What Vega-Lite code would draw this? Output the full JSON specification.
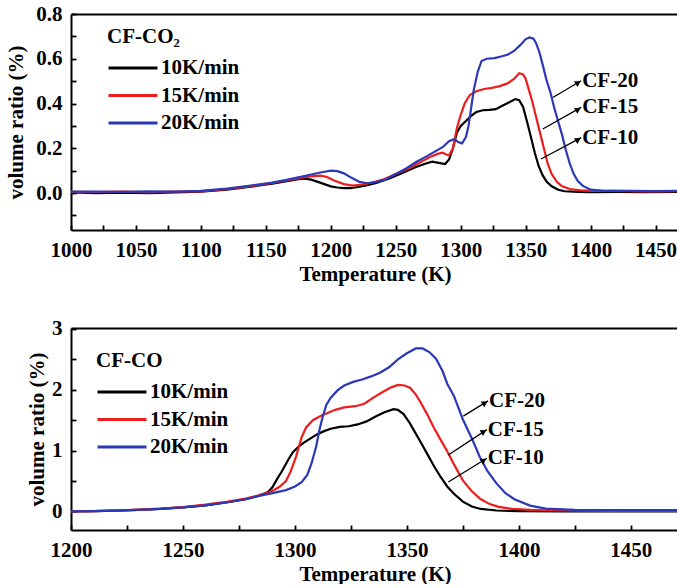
{
  "$schema": "https://vega.github.io/schema/vega-lite/v6.json",
  "padding": {"left": 5, "top": 3, "right": 0, "bottom": 0},
  "background": "white",
  "spacing": 33,
  "config": {
    "view": {"stroke": null},
    "font": "Liberation Serif",
    "axis": {
      "labelFont": "Liberation Serif", "labelFontWeight": "bold", "labelFontSize": 21, "labelColor": "black",
      "titleFont": "Liberation Serif", "titleFontWeight": "bold", "titleFontSize": 21, "titleColor": "black",
      "domainColor": "black", "domainWidth": 2, "tickColor": "black", "tickWidth": 1.8, "tickSize": -5,
      "labelPadding": 14, "grid": false, "labelOverlap": false, "labelFlush": false
    },
    "legend": {
      "orient": "none", "titleFont": "Liberation Serif", "titleFontSize": 21, "titleFontWeight": "bold", "titleColor": "black",
      "titlePadding": 11, "labelFont": "Liberation Serif", "labelFontSize": 21, "labelFontWeight": "bold", "labelColor": "black",
      "symbolType": "stroke", "symbolSize": 2400, "symbolStrokeWidth": 3, "labelOffset": 2, "rowPadding": 6.5, "clipHeight": 20, "padding": 0
    }
  },
  "resolve": {"scale": {"color": "independent"}},
  "datasets": {
    "co2": [
      {"T": 1000, "v": 0.003, "s": "10K/min"}, {"T": 1020, "v": 0.0, "s": "10K/min"}, {"T": 1040, "v": 0.002, "s": "10K/min"}, {"T": 1060, "v": 0.0, "s": "10K/min"}, {"T": 1080, "v": 0.003, "s": "10K/min"}, {"T": 1100, "v": 0.006, "s": "10K/min"}, {"T": 1120, "v": 0.015, "s": "10K/min"}, {"T": 1140, "v": 0.03, "s": "10K/min"}, {"T": 1155, "v": 0.042, "s": "10K/min"}, {"T": 1165, "v": 0.052, "s": "10K/min"}, {"T": 1175, "v": 0.062, "s": "10K/min"}, {"T": 1180, "v": 0.064, "s": "10K/min"}, {"T": 1185, "v": 0.06, "s": "10K/min"}, {"T": 1190, "v": 0.05, "s": "10K/min"}, {"T": 1195, "v": 0.04, "s": "10K/min"}, {"T": 1200, "v": 0.03, "s": "10K/min"}, {"T": 1205, "v": 0.025, "s": "10K/min"}, {"T": 1210, "v": 0.022, "s": "10K/min"}, {"T": 1215, "v": 0.022, "s": "10K/min"}, {"T": 1220, "v": 0.026, "s": "10K/min"}, {"T": 1228, "v": 0.035, "s": "10K/min"}, {"T": 1235, "v": 0.045, "s": "10K/min"}, {"T": 1245, "v": 0.065, "s": "10K/min"}, {"T": 1255, "v": 0.09, "s": "10K/min"}, {"T": 1265, "v": 0.115, "s": "10K/min"}, {"T": 1272, "v": 0.13, "s": "10K/min"}, {"T": 1278, "v": 0.14, "s": "10K/min"}, {"T": 1283, "v": 0.135, "s": "10K/min"}, {"T": 1288, "v": 0.13, "s": "10K/min"}, {"T": 1291, "v": 0.15, "s": "10K/min"}, {"T": 1294, "v": 0.2, "s": "10K/min"}, {"T": 1297, "v": 0.27, "s": "10K/min"}, {"T": 1300, "v": 0.3, "s": "10K/min"}, {"T": 1304, "v": 0.322, "s": "10K/min"}, {"T": 1308, "v": 0.345, "s": "10K/min"}, {"T": 1312, "v": 0.362, "s": "10K/min"}, {"T": 1317, "v": 0.37, "s": "10K/min"}, {"T": 1322, "v": 0.372, "s": "10K/min"}, {"T": 1327, "v": 0.375, "s": "10K/min"}, {"T": 1332, "v": 0.39, "s": "10K/min"}, {"T": 1337, "v": 0.405, "s": "10K/min"}, {"T": 1342, "v": 0.42, "s": "10K/min"}, {"T": 1345, "v": 0.415, "s": "10K/min"}, {"T": 1348, "v": 0.385, "s": "10K/min"}, {"T": 1351, "v": 0.32, "s": "10K/min"}, {"T": 1354, "v": 0.25, "s": "10K/min"}, {"T": 1357, "v": 0.18, "s": "10K/min"}, {"T": 1360, "v": 0.12, "s": "10K/min"}, {"T": 1363, "v": 0.08, "s": "10K/min"}, {"T": 1366, "v": 0.052, "s": "10K/min"}, {"T": 1370, "v": 0.03, "s": "10K/min"}, {"T": 1375, "v": 0.015, "s": "10K/min"}, {"T": 1380, "v": 0.008, "s": "10K/min"}, {"T": 1390, "v": 0.005, "s": "10K/min"}, {"T": 1400, "v": 0.004, "s": "10K/min"}, {"T": 1420, "v": 0.005, "s": "10K/min"}, {"T": 1440, "v": 0.004, "s": "10K/min"}, {"T": 1469, "v": 0.005, "s": "10K/min"},
      {"T": 1000, "v": 0.005, "s": "15K/min"}, {"T": 1020, "v": 0.004, "s": "15K/min"}, {"T": 1040, "v": 0.006, "s": "15K/min"}, {"T": 1060, "v": 0.003, "s": "15K/min"}, {"T": 1080, "v": 0.007, "s": "15K/min"}, {"T": 1100, "v": 0.008, "s": "15K/min"}, {"T": 1120, "v": 0.017, "s": "15K/min"}, {"T": 1140, "v": 0.032, "s": "15K/min"}, {"T": 1155, "v": 0.045, "s": "15K/min"}, {"T": 1165, "v": 0.055, "s": "15K/min"}, {"T": 1175, "v": 0.065, "s": "15K/min"}, {"T": 1185, "v": 0.075, "s": "15K/min"}, {"T": 1192, "v": 0.078, "s": "15K/min"}, {"T": 1197, "v": 0.072, "s": "15K/min"}, {"T": 1203, "v": 0.055, "s": "15K/min"}, {"T": 1210, "v": 0.04, "s": "15K/min"}, {"T": 1217, "v": 0.033, "s": "15K/min"}, {"T": 1224, "v": 0.038, "s": "15K/min"}, {"T": 1232, "v": 0.047, "s": "15K/min"}, {"T": 1240, "v": 0.06, "s": "15K/min"}, {"T": 1250, "v": 0.085, "s": "15K/min"}, {"T": 1260, "v": 0.11, "s": "15K/min"}, {"T": 1268, "v": 0.135, "s": "15K/min"}, {"T": 1276, "v": 0.16, "s": "15K/min"}, {"T": 1282, "v": 0.175, "s": "15K/min"}, {"T": 1286, "v": 0.18, "s": "15K/min"}, {"T": 1289, "v": 0.172, "s": "15K/min"}, {"T": 1291, "v": 0.168, "s": "15K/min"}, {"T": 1294, "v": 0.2, "s": "15K/min"}, {"T": 1297, "v": 0.29, "s": "15K/min"}, {"T": 1300, "v": 0.35, "s": "15K/min"}, {"T": 1303, "v": 0.4, "s": "15K/min"}, {"T": 1307, "v": 0.438, "s": "15K/min"}, {"T": 1312, "v": 0.455, "s": "15K/min"}, {"T": 1318, "v": 0.465, "s": "15K/min"}, {"T": 1324, "v": 0.47, "s": "15K/min"}, {"T": 1330, "v": 0.478, "s": "15K/min"}, {"T": 1336, "v": 0.49, "s": "15K/min"}, {"T": 1341, "v": 0.51, "s": "15K/min"}, {"T": 1345, "v": 0.535, "s": "15K/min"}, {"T": 1348, "v": 0.53, "s": "15K/min"}, {"T": 1350, "v": 0.51, "s": "15K/min"}, {"T": 1352, "v": 0.47, "s": "15K/min"}, {"T": 1355, "v": 0.41, "s": "15K/min"}, {"T": 1358, "v": 0.34, "s": "15K/min"}, {"T": 1361, "v": 0.27, "s": "15K/min"}, {"T": 1364, "v": 0.2, "s": "15K/min"}, {"T": 1367, "v": 0.13, "s": "15K/min"}, {"T": 1370, "v": 0.085, "s": "15K/min"}, {"T": 1374, "v": 0.05, "s": "15K/min"}, {"T": 1378, "v": 0.03, "s": "15K/min"}, {"T": 1384, "v": 0.018, "s": "15K/min"}, {"T": 1392, "v": 0.012, "s": "15K/min"}, {"T": 1400, "v": 0.01, "s": "15K/min"}, {"T": 1420, "v": 0.01, "s": "15K/min"}, {"T": 1440, "v": 0.008, "s": "15K/min"}, {"T": 1469, "v": 0.009, "s": "15K/min"},
      {"T": 1000, "v": 0.006, "s": "20K/min"}, {"T": 1020, "v": 0.007, "s": "20K/min"}, {"T": 1040, "v": 0.005, "s": "20K/min"}, {"T": 1060, "v": 0.008, "s": "20K/min"}, {"T": 1080, "v": 0.006, "s": "20K/min"}, {"T": 1100, "v": 0.01, "s": "20K/min"}, {"T": 1120, "v": 0.02, "s": "20K/min"}, {"T": 1140, "v": 0.035, "s": "20K/min"}, {"T": 1155, "v": 0.047, "s": "20K/min"}, {"T": 1165, "v": 0.058, "s": "20K/min"}, {"T": 1175, "v": 0.07, "s": "20K/min"}, {"T": 1185, "v": 0.083, "s": "20K/min"}, {"T": 1193, "v": 0.093, "s": "20K/min"}, {"T": 1200, "v": 0.1, "s": "20K/min"}, {"T": 1205, "v": 0.098, "s": "20K/min"}, {"T": 1210, "v": 0.088, "s": "20K/min"}, {"T": 1216, "v": 0.068, "s": "20K/min"}, {"T": 1222, "v": 0.05, "s": "20K/min"}, {"T": 1228, "v": 0.044, "s": "20K/min"}, {"T": 1235, "v": 0.05, "s": "20K/min"}, {"T": 1242, "v": 0.06, "s": "20K/min"}, {"T": 1250, "v": 0.085, "s": "20K/min"}, {"T": 1258, "v": 0.11, "s": "20K/min"}, {"T": 1266, "v": 0.14, "s": "20K/min"}, {"T": 1274, "v": 0.165, "s": "20K/min"}, {"T": 1280, "v": 0.185, "s": "20K/min"}, {"T": 1286, "v": 0.205, "s": "20K/min"}, {"T": 1291, "v": 0.232, "s": "20K/min"}, {"T": 1295, "v": 0.242, "s": "20K/min"}, {"T": 1298, "v": 0.228, "s": "20K/min"}, {"T": 1301, "v": 0.222, "s": "20K/min"}, {"T": 1304, "v": 0.25, "s": "20K/min"}, {"T": 1306, "v": 0.3, "s": "20K/min"}, {"T": 1308, "v": 0.38, "s": "20K/min"}, {"T": 1310, "v": 0.46, "s": "20K/min"}, {"T": 1313, "v": 0.54, "s": "20K/min"}, {"T": 1316, "v": 0.59, "s": "20K/min"}, {"T": 1320, "v": 0.6, "s": "20K/min"}, {"T": 1326, "v": 0.603, "s": "20K/min"}, {"T": 1331, "v": 0.61, "s": "20K/min"}, {"T": 1336, "v": 0.618, "s": "20K/min"}, {"T": 1341, "v": 0.635, "s": "20K/min"}, {"T": 1346, "v": 0.662, "s": "20K/min"}, {"T": 1350, "v": 0.688, "s": "20K/min"}, {"T": 1353, "v": 0.695, "s": "20K/min"}, {"T": 1356, "v": 0.69, "s": "20K/min"}, {"T": 1358, "v": 0.67, "s": "20K/min"}, {"T": 1360.5, "v": 0.63, "s": "20K/min"}, {"T": 1363, "v": 0.575, "s": "20K/min"}, {"T": 1366, "v": 0.505, "s": "20K/min"}, {"T": 1369, "v": 0.45, "s": "20K/min"}, {"T": 1372, "v": 0.38, "s": "20K/min"}, {"T": 1375, "v": 0.32, "s": "20K/min"}, {"T": 1378, "v": 0.26, "s": "20K/min"}, {"T": 1381, "v": 0.19, "s": "20K/min"}, {"T": 1384, "v": 0.13, "s": "20K/min"}, {"T": 1387, "v": 0.085, "s": "20K/min"}, {"T": 1390, "v": 0.055, "s": "20K/min"}, {"T": 1394, "v": 0.032, "s": "20K/min"}, {"T": 1400, "v": 0.015, "s": "20K/min"}, {"T": 1410, "v": 0.01, "s": "20K/min"}, {"T": 1430, "v": 0.01, "s": "20K/min"}, {"T": 1450, "v": 0.009, "s": "20K/min"}, {"T": 1469, "v": 0.01, "s": "20K/min"}
    ],
    "co": [
      {"T": 1200, "v": 0.0, "s": "10K/min"}, {"T": 1210, "v": 0.005, "s": "10K/min"}, {"T": 1220, "v": 0.012, "s": "10K/min"}, {"T": 1230, "v": 0.025, "s": "10K/min"}, {"T": 1240, "v": 0.04, "s": "10K/min"}, {"T": 1250, "v": 0.065, "s": "10K/min"}, {"T": 1260, "v": 0.1, "s": "10K/min"}, {"T": 1270, "v": 0.15, "s": "10K/min"}, {"T": 1278, "v": 0.2, "s": "10K/min"}, {"T": 1284, "v": 0.26, "s": "10K/min"}, {"T": 1288, "v": 0.32, "s": "10K/min"}, {"T": 1290, "v": 0.4, "s": "10K/min"}, {"T": 1292, "v": 0.53, "s": "10K/min"}, {"T": 1294.5, "v": 0.68, "s": "10K/min"}, {"T": 1297, "v": 0.85, "s": "10K/min"}, {"T": 1299, "v": 0.97, "s": "10K/min"}, {"T": 1301.5, "v": 1.06, "s": "10K/min"}, {"T": 1304, "v": 1.13, "s": "10K/min"}, {"T": 1307, "v": 1.2, "s": "10K/min"}, {"T": 1310, "v": 1.27, "s": "10K/min"}, {"T": 1313, "v": 1.32, "s": "10K/min"}, {"T": 1316, "v": 1.36, "s": "10K/min"}, {"T": 1320, "v": 1.39, "s": "10K/min"}, {"T": 1324, "v": 1.4, "s": "10K/min"}, {"T": 1328, "v": 1.43, "s": "10K/min"}, {"T": 1332, "v": 1.48, "s": "10K/min"}, {"T": 1336, "v": 1.56, "s": "10K/min"}, {"T": 1340, "v": 1.63, "s": "10K/min"}, {"T": 1344, "v": 1.68, "s": "10K/min"}, {"T": 1346, "v": 1.67, "s": "10K/min"}, {"T": 1348.5, "v": 1.6, "s": "10K/min"}, {"T": 1351, "v": 1.47, "s": "10K/min"}, {"T": 1353, "v": 1.34, "s": "10K/min"}, {"T": 1356, "v": 1.15, "s": "10K/min"}, {"T": 1359, "v": 0.95, "s": "10K/min"}, {"T": 1362, "v": 0.75, "s": "10K/min"}, {"T": 1365, "v": 0.57, "s": "10K/min"}, {"T": 1368, "v": 0.41, "s": "10K/min"}, {"T": 1371, "v": 0.29, "s": "10K/min"}, {"T": 1375, "v": 0.16, "s": "10K/min"}, {"T": 1379, "v": 0.08, "s": "10K/min"}, {"T": 1383, "v": 0.04, "s": "10K/min"}, {"T": 1390, "v": 0.015, "s": "10K/min"}, {"T": 1400, "v": 0.005, "s": "10K/min"}, {"T": 1420, "v": 0.0, "s": "10K/min"}, {"T": 1440, "v": 0.0, "s": "10K/min"}, {"T": 1471, "v": 0.0, "s": "10K/min"},
      {"T": 1200, "v": 0.0, "s": "15K/min"}, {"T": 1210, "v": 0.006, "s": "15K/min"}, {"T": 1220, "v": 0.014, "s": "15K/min"}, {"T": 1230, "v": 0.028, "s": "15K/min"}, {"T": 1240, "v": 0.045, "s": "15K/min"}, {"T": 1250, "v": 0.07, "s": "15K/min"}, {"T": 1260, "v": 0.11, "s": "15K/min"}, {"T": 1270, "v": 0.16, "s": "15K/min"}, {"T": 1278, "v": 0.21, "s": "15K/min"}, {"T": 1284, "v": 0.265, "s": "15K/min"}, {"T": 1289, "v": 0.32, "s": "15K/min"}, {"T": 1293, "v": 0.4, "s": "15K/min"}, {"T": 1296, "v": 0.5, "s": "15K/min"}, {"T": 1298, "v": 0.65, "s": "15K/min"}, {"T": 1300.5, "v": 0.9, "s": "15K/min"}, {"T": 1303, "v": 1.22, "s": "15K/min"}, {"T": 1305, "v": 1.38, "s": "15K/min"}, {"T": 1308, "v": 1.5, "s": "15K/min"}, {"T": 1311, "v": 1.56, "s": "15K/min"}, {"T": 1314, "v": 1.61, "s": "15K/min"}, {"T": 1318, "v": 1.67, "s": "15K/min"}, {"T": 1322, "v": 1.71, "s": "15K/min"}, {"T": 1327, "v": 1.73, "s": "15K/min"}, {"T": 1331, "v": 1.77, "s": "15K/min"}, {"T": 1335, "v": 1.87, "s": "15K/min"}, {"T": 1339, "v": 1.96, "s": "15K/min"}, {"T": 1343, "v": 2.04, "s": "15K/min"}, {"T": 1346, "v": 2.08, "s": "15K/min"}, {"T": 1349, "v": 2.07, "s": "15K/min"}, {"T": 1351.5, "v": 2.03, "s": "15K/min"}, {"T": 1354, "v": 1.92, "s": "15K/min"}, {"T": 1356, "v": 1.8, "s": "15K/min"}, {"T": 1359, "v": 1.6, "s": "15K/min"}, {"T": 1362, "v": 1.38, "s": "15K/min"}, {"T": 1365, "v": 1.18, "s": "15K/min"}, {"T": 1368, "v": 0.99, "s": "15K/min"}, {"T": 1371.5, "v": 0.74, "s": "15K/min"}, {"T": 1375, "v": 0.51, "s": "15K/min"}, {"T": 1379, "v": 0.33, "s": "15K/min"}, {"T": 1383, "v": 0.2, "s": "15K/min"}, {"T": 1387, "v": 0.12, "s": "15K/min"}, {"T": 1391, "v": 0.075, "s": "15K/min"}, {"T": 1397, "v": 0.04, "s": "15K/min"}, {"T": 1405, "v": 0.025, "s": "15K/min"}, {"T": 1415, "v": 0.015, "s": "15K/min"}, {"T": 1440, "v": 0.01, "s": "15K/min"}, {"T": 1471, "v": 0.01, "s": "15K/min"},
      {"T": 1200, "v": 0.0, "s": "20K/min"}, {"T": 1210, "v": 0.005, "s": "20K/min"}, {"T": 1220, "v": 0.012, "s": "20K/min"}, {"T": 1230, "v": 0.025, "s": "20K/min"}, {"T": 1240, "v": 0.04, "s": "20K/min"}, {"T": 1250, "v": 0.065, "s": "20K/min"}, {"T": 1260, "v": 0.1, "s": "20K/min"}, {"T": 1270, "v": 0.15, "s": "20K/min"}, {"T": 1278, "v": 0.2, "s": "20K/min"}, {"T": 1284, "v": 0.255, "s": "20K/min"}, {"T": 1290, "v": 0.3, "s": "20K/min"}, {"T": 1296, "v": 0.35, "s": "20K/min"}, {"T": 1300, "v": 0.41, "s": "20K/min"}, {"T": 1303, "v": 0.48, "s": "20K/min"}, {"T": 1305.5, "v": 0.6, "s": "20K/min"}, {"T": 1307.5, "v": 0.8, "s": "20K/min"}, {"T": 1309.5, "v": 1.07, "s": "20K/min"}, {"T": 1311, "v": 1.35, "s": "20K/min"}, {"T": 1312.5, "v": 1.57, "s": "20K/min"}, {"T": 1314, "v": 1.75, "s": "20K/min"}, {"T": 1316, "v": 1.87, "s": "20K/min"}, {"T": 1319, "v": 1.99, "s": "20K/min"}, {"T": 1322, "v": 2.07, "s": "20K/min"}, {"T": 1326, "v": 2.13, "s": "20K/min"}, {"T": 1330, "v": 2.17, "s": "20K/min"}, {"T": 1334, "v": 2.22, "s": "20K/min"}, {"T": 1338, "v": 2.28, "s": "20K/min"}, {"T": 1342, "v": 2.37, "s": "20K/min"}, {"T": 1346, "v": 2.5, "s": "20K/min"}, {"T": 1350, "v": 2.6, "s": "20K/min"}, {"T": 1354, "v": 2.68, "s": "20K/min"}, {"T": 1357, "v": 2.68, "s": "20K/min"}, {"T": 1360, "v": 2.62, "s": "20K/min"}, {"T": 1363, "v": 2.51, "s": "20K/min"}, {"T": 1366, "v": 2.3, "s": "20K/min"}, {"T": 1368, "v": 2.1, "s": "20K/min"}, {"T": 1371, "v": 1.9, "s": "20K/min"}, {"T": 1375, "v": 1.51, "s": "20K/min"}, {"T": 1379, "v": 1.2, "s": "20K/min"}, {"T": 1382.5, "v": 0.9, "s": "20K/min"}, {"T": 1386, "v": 0.66, "s": "20K/min"}, {"T": 1390, "v": 0.46, "s": "20K/min"}, {"T": 1394, "v": 0.3, "s": "20K/min"}, {"T": 1398, "v": 0.2, "s": "20K/min"}, {"T": 1405, "v": 0.095, "s": "20K/min"}, {"T": 1412, "v": 0.045, "s": "20K/min"}, {"T": 1425, "v": 0.025, "s": "20K/min"}, {"T": 1445, "v": 0.02, "s": "20K/min"}, {"T": 1471, "v": 0.02, "s": "20K/min"}
    ],
    "ann1": [
      {"label": "CF-20", "x1": 1370.9, "y1": 0.427, "x2": 1392.7, "y2": 0.502},
      {"label": "CF-15", "x1": 1363.1, "y1": 0.286, "x2": 1392.7, "y2": 0.383},
      {"label": "CF-10", "x1": 1361.8, "y1": 0.152, "x2": 1392.7, "y2": 0.248}
    ],
    "ann2": [
      {"label": "CF-20", "x1": 1375.2, "y1": 1.567, "x2": 1386.2, "y2": 1.817},
      {"label": "CF-15", "x1": 1368.5, "y1": 0.928, "x2": 1385.7, "y2": 1.345},
      {"label": "CF-10", "x1": 1368.5, "y1": 0.483, "x2": 1385.7, "y2": 0.873}
    ]
  },
  "vconcat": [
    {
      "width": 608, "height": 216,
      "resolve": {"axis": {"x": "independent", "y": "independent"}},
      "layer": [
        {
          "data": {"name": "co2"},
          "mark": {"type": "line", "strokeWidth": 2.2, "clip": true},
          "encoding": {
            "x": {"field": "T", "type": "quantitative", "scale": {"domain": [1000, 1468], "nice": false, "zero": false},
                  "axis": {"title": "Temperature (K)", "titlePadding": 3, "values": [1000,1025,1050,1075,1100,1125,1150,1175,1200,1225,1250,1275,1300,1325,1350,1375,1400,1425,1450],
                           "labelExpr": "datum.value % 50 === 0 ? format(datum.value, 'd') : ''"}},
            "y": {"field": "v", "type": "quantitative", "scale": {"domain": [-0.165, 0.8], "nice": false, "zero": false},
                  "axis": {"title": "volume ratio (%)", "titlePadding": 9, "values": [-0.1,0,0.1,0.2,0.3,0.4,0.5,0.6,0.7,0.8],
                           "labelExpr": "abs(round(datum.value*10)) % 2 === 0 ? format(datum.value, '.1f') : ''"}},
            "color": {"field": "s", "type": "nominal", "scale": {"domain": ["10K/min", "15K/min", "20K/min"], "range": ["#000000", "#ee1d1d", "#2b38b8"]},
                      "legend": {"title": "CF-CO₂", "legendX": 36, "legendY": 12}}
          }
        },
        {
          "data": {"name": "ann1"},
          "mark": {"type": "rule", "color": "black", "strokeWidth": 1.3},
          "encoding": {
            "x": {"field": "x1", "type": "quantitative", "axis": null},
            "y": {"field": "y1", "type": "quantitative", "axis": null},
            "x2": {"field": "x2"},
            "y2": {"field": "y2"}
          }
        },
        {
          "data": {"name": "ann1"},
          "mark": {"type": "point", "shape": "triangle-right", "filled": true, "color": "black", "opacity": 1, "size": 45, "angle": -31, "xOffset": -3, "yOffset": 2},
          "encoding": {
            "x": {"field": "x2", "type": "quantitative", "axis": {"orient": "top", "domain": true, "ticks": false, "labels": false, "title": null}},
            "y": {"field": "y2", "type": "quantitative", "axis": null}
          }
        },
        {
          "data": {"name": "ann1"},
          "mark": {"type": "text", "align": "left", "baseline": "middle", "dx": 1, "fontSize": 21, "fontWeight": "bold", "font": "Liberation Serif", "color": "black"},
          "encoding": {
            "x": {"field": "x2", "type": "quantitative", "axis": null},
            "y": {"field": "y2", "type": "quantitative", "axis": null},
            "text": {"field": "label"}
          }
        }
      ]
    },
    {
      "width": 608, "height": 202,
      "resolve": {"axis": {"x": "independent", "y": "independent"}},
      "layer": [
        {
          "data": {"name": "co"},
          "mark": {"type": "line", "strokeWidth": 2.2, "clip": true},
          "encoding": {
            "x": {"field": "T", "type": "quantitative", "scale": {"domain": [1200, 1471.5], "nice": false, "zero": false},
                  "axis": {"title": "Temperature (K)", "titlePadding": 3, "values": [1200,1225,1250,1275,1300,1325,1350,1375,1400,1425,1450],
                           "labelExpr": "datum.value % 50 === 0 ? format(datum.value, 'd') : ''"}},
            "y": {"field": "v", "type": "quantitative", "scale": {"domain": [-0.306, 3.016], "nice": false, "zero": false},
                  "axis": {"title": "volume ratio (%)", "titlePadding": 4, "values": [0,0.5,1,1.5,2,2.5,3],
                           "labelExpr": "datum.value % 1 === 0 ? format(datum.value, 'd') : ''"}},
            "color": {"field": "s", "type": "nominal", "scale": {"domain": ["10K/min", "15K/min", "20K/min"], "range": ["#000000", "#ee1d1d", "#2b38b8"]},
                      "legend": {"title": "CF-CO", "legendX": 25, "legendY": 22}}
          }
        },
        {
          "data": {"name": "ann2"},
          "mark": {"type": "rule", "color": "black", "strokeWidth": 1.3},
          "encoding": {
            "x": {"field": "x1", "type": "quantitative", "axis": null},
            "y": {"field": "y1", "type": "quantitative", "axis": null},
            "x2": {"field": "x2"},
            "y2": {"field": "y2"}
          }
        },
        {
          "data": {"name": "ann2"},
          "mark": {"type": "point", "shape": "triangle-right", "filled": true, "color": "black", "opacity": 1, "size": 45, "angle": -31, "xOffset": -3, "yOffset": 2},
          "encoding": {
            "x": {"field": "x2", "type": "quantitative", "axis": {"orient": "top", "domain": true, "ticks": false, "labels": false, "title": null}},
            "y": {"field": "y2", "type": "quantitative", "axis": null}
          }
        },
        {
          "data": {"name": "ann2"},
          "mark": {"type": "text", "align": "left", "baseline": "middle", "dx": 1, "fontSize": 21, "fontWeight": "bold", "font": "Liberation Serif", "color": "black"},
          "encoding": {
            "x": {"field": "x2", "type": "quantitative", "axis": null},
            "y": {"field": "y2", "type": "quantitative", "axis": null},
            "text": {"field": "label"}
          }
        }
      ]
    }
  ]
}
